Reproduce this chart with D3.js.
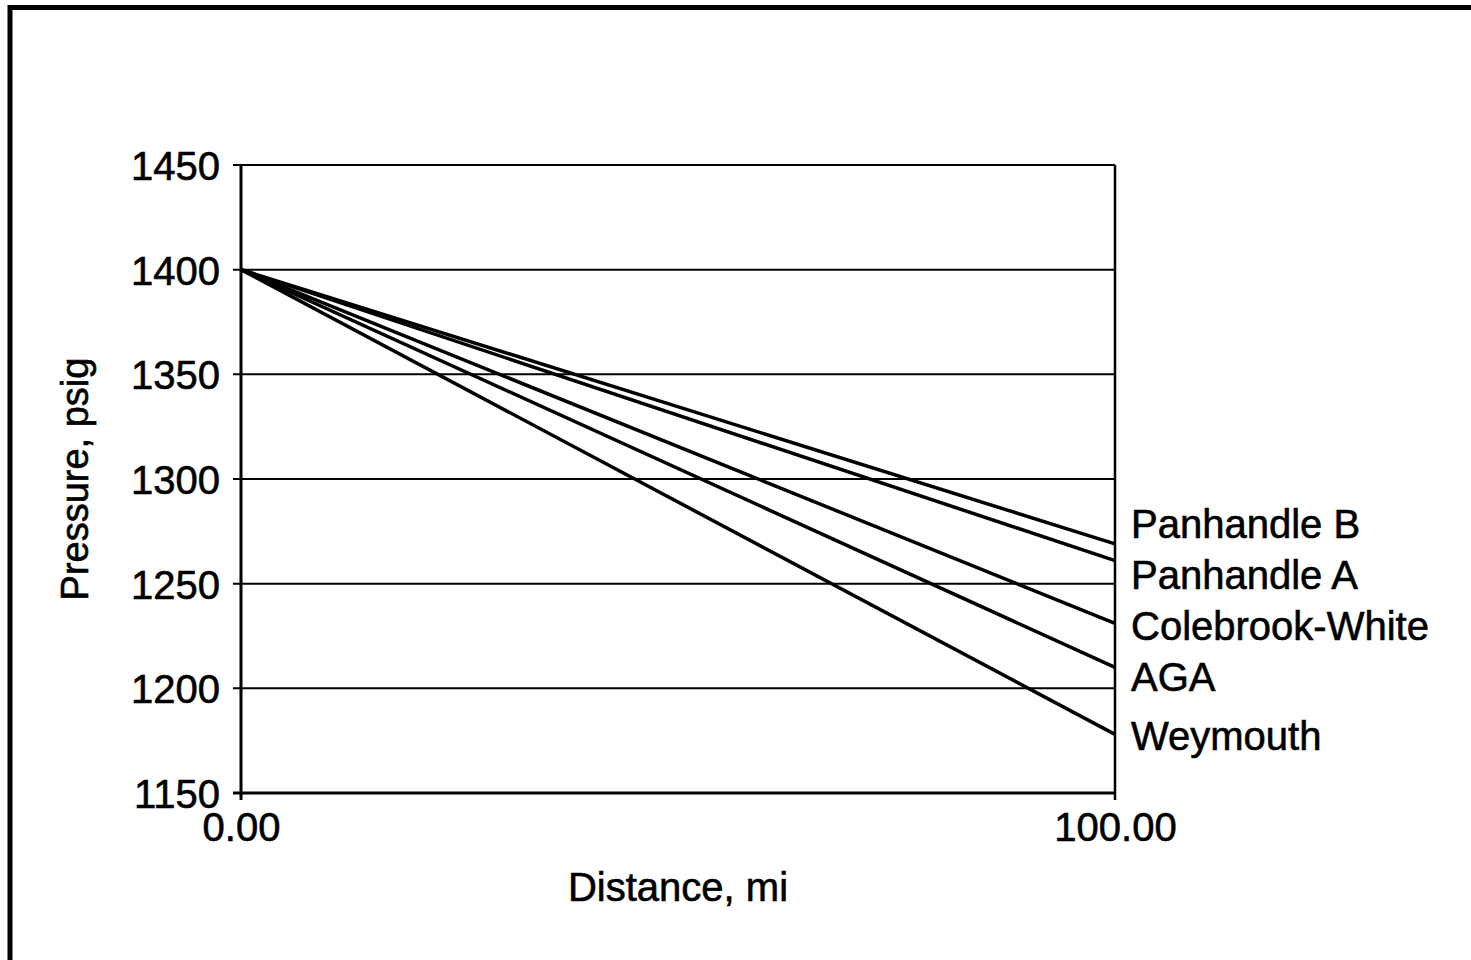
<!DOCTYPE html>
<html>
  <head>
    <meta charset="utf-8">
    <title>Pressure vs distance</title>
    <script src="https://d3js.org/d3.v7.min.js"></script>
    <style>
      body { margin: 0; background: #fff; }
      text { font-family: "Liberation Sans", Arial, sans-serif; fill: #000; stroke: #000; stroke-width: 0.6px; }
    </style>
  </head>
  <body>
    <div id="chart"></div>
    <script>
      // data
      var distance = [0, 100];
      var seriesNames = ["Panhandle B", "Panhandle A", "Colebrook-White", "AGA", "Weymouth"];
      var panhandleB = [1400, 1269];
      var panhandleA = [1400, 1261];
      var colebrook = [1400, 1231];
      var aga = [1400, 1210];
      var weymouth = [1400, 1178];
      var yTicks = [1150, 1200, 1250, 1300, 1350, 1400, 1450];
      var xTicks = [0, 100];

      var width = 1471;
      var height = 960;
      var margin = {left: 241, right: 356, top: 165, bottom: 167};

      var svg = d3.select("#chart")
            .append("svg")
            .attr("width", width)
            .attr("height", height);

      // outer frame, right and bottom edges fall off the page
      svg.append("rect")
        .attr("x", 10)
        .attr("y", 7.5)
        .attr("width", width + 50)
        .attr("height", height + 50)
        .style("fill", "none")
        .style("stroke", "#000")
        .style("stroke-width", 5);

      var x = d3.scaleLinear()
        .domain([0, 100])
        .range([margin.left, width - margin.right]);

      var y = d3.scaleLinear()
        .domain([1150, 1450])
        .range([height - margin.bottom, margin.top]);

      // gridlines
      svg.append("g")
        .selectAll("line")
        .data(yTicks)
        .enter()
        .append("line")
        .attr("x1", x(0) - 8)
        .attr("x2", x(100))
        .attr("y1", function(d) { return y(d); })
        .attr("y2", function(d) { return y(d); })
        .style("stroke", "#000")
        .style("stroke-width", function(d) { return d == 1150 ? 3 : 2; });

      // right border of plot
      svg.append("line")
        .attr("x1", x(100)).attr("x2", x(100))
        .attr("y1", y(1450)).attr("y2", y(1150) + 7)
        .style("stroke", "#000")
        .style("stroke-width", 2.5);

      // left axis line
      svg.append("line")
        .attr("x1", x(0)).attr("x2", x(0))
        .attr("y1", y(1450)).attr("y2", y(1150) + 7)
        .style("stroke", "#000")
        .style("stroke-width", 3);

      // y axis labels
      var yAxis = d3.axisLeft(y)
        .tickValues(yTicks)
        .tickSize(0)
        .tickPadding(21)
        .tickFormat(d3.format("d"));

      var gy = svg.append("g")
        .attr("transform", "translate(" + x(0) + ",0)")
        .call(yAxis);
      gy.select(".domain").remove();
      gy.selectAll("text")
        .style("font-size", "40px")
        .style("font-family", "'Liberation Sans', Arial, sans-serif")
        .attr("dy", "0.36em");

      // x axis labels
      var xAxis = d3.axisBottom(x)
        .tickValues(xTicks)
        .tickSize(0)
        .tickPadding(20)
        .tickFormat(d3.format(".2f"));

      var gx = svg.append("g")
        .attr("transform", "translate(0," + y(1150) + ")")
        .call(xAxis);
      gx.select(".domain").remove();
      gx.selectAll("text")
        .style("font-size", "40px")
        .style("font-family", "'Liberation Sans', Arial, sans-serif")
        .attr("dy", "0.71em");

      // axis titles
      svg.append("text")
        .attr("x", (x(0) + x(100)) / 2)
        .attr("y", 901)
        .attr("text-anchor", "middle")
        .style("font-size", "40px")
        .text("Distance, mi");

      svg.append("text")
        .attr("transform", "translate(88," + (y(1150) + y(1450)) / 2 + ") rotate(-90)")
        .attr("text-anchor", "middle")
        .style("font-size", "38px")
        .text("Pressure, psig");

      // series
      var allSeries = [panhandleB, panhandleA, colebrook, aga, weymouth];
      var series = seriesNames.map(function(name, i) {
        return {
          name: name,
          values: distance.map(function(d, j) { return {x: d, y: allSeries[i][j]}; })
        };
      });

      var line = d3.line()
        .x(function(d) { return x(d.x); })
        .y(function(d) { return y(d.y); });

      svg.append("g")
        .selectAll("path")
        .data(series)
        .enter()
        .append("path")
        .attr("d", function(d) { return line(d.values); })
        .style("fill", "none")
        .style("stroke", "#000")
        .style("stroke-width", 3.5);

      // end labels, pushed apart so they don't overlap
      var labelPos = series.map(function(d) { return y(d.values[d.values.length - 1].y); });
      var gap = 51;
      for (var k = 0; k < 50; k++) {
        for (var i = 1; i < labelPos.length; i++) {
          var diff = labelPos[i] - labelPos[i - 1];
          if (diff < gap) {
            var shift = (gap - diff) / 2;
            labelPos[i - 1] -= shift;
            labelPos[i] += shift;
          }
        }
      }

      svg.append("g")
        .selectAll("text")
        .data(series)
        .enter()
        .append("text")
        .attr("x", x(100) + 16)
        .attr("y", function(d, i) { return labelPos[i]; })
        .attr("dy", "0.4em")
        .style("font-size", "40px")
        .text(function(d) { return d.name; });
    </script>
  </body>
</html>
